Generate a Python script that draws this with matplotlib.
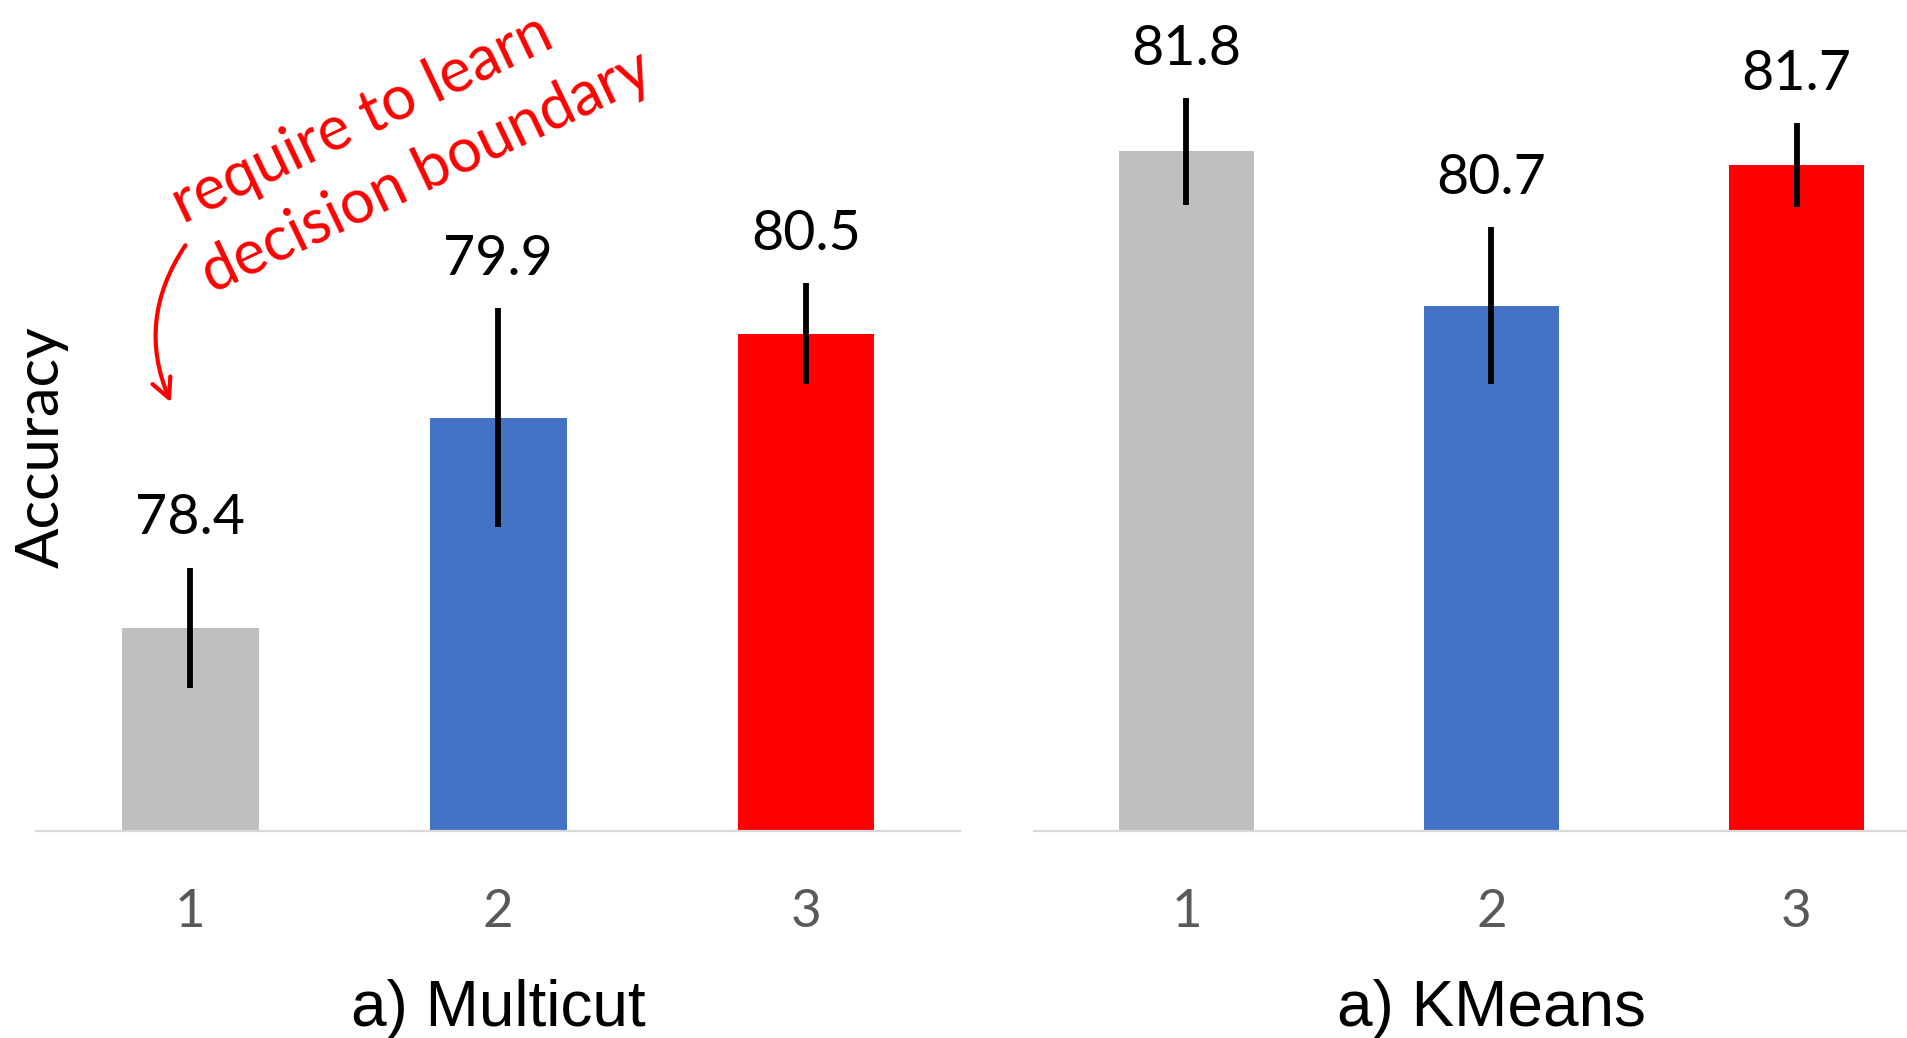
import matplotlib.pyplot as plt
import matplotlib.transforms as mtransforms
from matplotlib.patches import FancyArrowPatch

# accuracy per setting, mean and spread
settings = ["1", "2", "3"]
multicut_acc = [78.4, 79.9, 80.5]
multicut_err = [0.43, 0.78, 0.36]
kmeans_acc = [81.8, 80.7, 81.7]
kmeans_err = [0.38, 0.56, 0.30]
bar_colors = ["#bfbfbf", "#4472c4", "#ff0000"]
titles = ["a) Multicut", "a) KMeans"]

fig = plt.figure(figsize=(19.08, 10.38), dpi=100)

ymin = 76.95
ymax = 82.88

ax1 = fig.add_axes([0.0191, 0.1994, 0.484, 0.8006])
ax2 = fig.add_axes([0.5419, 0.1994, 0.4796, 0.8006])

for ax, acc, err, title in [(ax1, multicut_acc, multicut_err, titles[0]),
                            (ax2, kmeans_acc, kmeans_err, titles[1])]:
    x = range(len(settings))
    ax.bar(x, acc, width=0.445, color=bar_colors, zorder=2)
    ax.errorbar(x, acc, yerr=err, fmt="none", ecolor="black",
                elinewidth=4.2, capsize=0, zorder=3)
    for i in x:
        ax.annotate(f"{acc[i]}", xy=(i, acc[i] + err[i]), xytext=(0, 24),
                    textcoords="offset points", ha="center", va="baseline",
                    fontsize=40, family="Lato", color="black")
    ax.set_xlim(-0.5, 2.5)
    ax.set_ylim(ymin, ymax)
    ax.set_xticks(list(x))
    ax.set_xticklabels(settings, fontsize=38, family="Lato", color="#595959")
    ax.tick_params(axis="x", length=0, pad=42)
    ax.set_yticks([])
    for s in ["top", "right", "left"]:
        ax.spines[s].set_visible(False)
    ax.spines["bottom"].set_color("#d9d9d9")
    ax.spines["bottom"].set_linewidth(1.6)
    ax.patch.set_alpha(0)
    trans = mtransforms.blended_transform_factory(ax.transData, fig.transFigure)
    ax.text(1, 0.0116, title, transform=trans, ha="center", va="baseline",
            fontsize=46, family="Liberation Sans", color="black")

fig.text(42 / 1908, 1 - 447 / 1038, "Accuracy", rotation=90, ha="center",
         va="center", fontsize=43, family="Lato", color="black")

# red note with curved arrow pointing at the first bar
fig.text(0.1897, 0.885, "require to learn", rotation=25.5, rotation_mode="anchor",
         ha="center", va="center", fontsize=44, family="Lato", color="red")
fig.text(0.2238, 0.834, "decision boundary", rotation=25.5, rotation_mode="anchor",
         ha="center", va="center", fontsize=44, family="Lato", color="red")
arrow = FancyArrowPatch((187 / 1908, 1 - 243 / 1038), (172 / 1908, 1 - 405 / 1038),
                        transform=fig.transFigure, connectionstyle="arc3,rad=0.28",
                        arrowstyle="->,head_length=14,head_width=7",
                        color="red", linewidth=3)
fig.patches.append(arrow)

fig.savefig("out.png", dpi=100)
